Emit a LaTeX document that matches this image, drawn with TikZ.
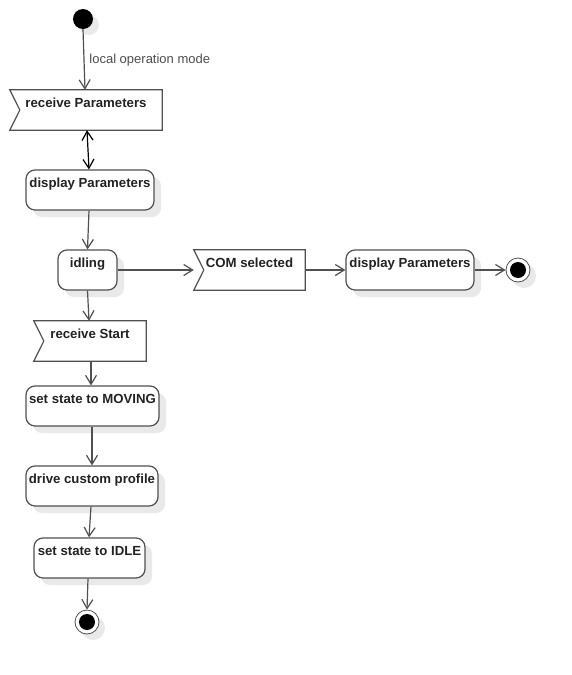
\documentclass[tikz,border=0pt]{standalone}
\usepackage{fontspec}
\setmainfont{Liberation Sans}
\usetikzlibrary{arrows.meta,shadows}
\pgfdeclarelayer{background}
\pgfsetlayers{background,main}
\definecolor{linec}{HTML}{505050}
\definecolor{textc}{HTML}{222222}
\definecolor{shadc}{HTML}{E9E9E9}
\tikzset{
  boxtext/.style={font=\fontsize{13.2}{15}\selectfont\bfseries, text=textc,
    text height=15pt, text depth=21pt, inner ysep=2pt, inner xsep=0pt},
  act/.style={boxtext, draw=linec, line width=1.2pt, fill=white, rounded corners=9pt,
    drop shadow={shadow xshift=7pt, shadow yshift=-7pt, fill=shadc, opacity=1}},
  sig/.style={boxtext},
  sigline/.style={draw=linec, line width=1.2pt},
  arr/.style={draw=linec, line width=1.2pt, -{Straight Barb[length=9pt,width=11pt,line width=1.2pt]}},
  arrb/.style={draw=black, line width=1.2pt, {Straight Barb[length=9pt,width=11pt,line width=1.2pt]}-{Straight Barb[length=9pt,width=11pt,line width=1.2pt]}},
  startdot/.style={circle, fill=black, minimum size=20pt, inner sep=0pt,
    drop shadow={shadow xshift=6pt, shadow yshift=-6pt, fill=shadc, opacity=1}},
  enddot/.style={circle, draw=linec, line width=0.8pt, fill=white, minimum size=24pt, inner sep=0pt,
    drop shadow={shadow xshift=6pt, shadow yshift=-6pt, fill=shadc, opacity=1}},
}
\newcommand{\sigshape}[1]{%
  \begin{pgfonlayer}{background}
    \fill[shadc] ([shift={(7,7)}]#1.north west) -- ([shift={(7,7)}]#1.north east) -- ([shift={(7,7)}]#1.south east) -- ([shift={(7,7)}]#1.south west) -- ([shift={(17,7)}]#1.west) -- cycle;
    \fill[white] (#1.north west) -- (#1.north east) -- (#1.south east) -- (#1.south west) -- ([xshift=10pt]#1.west) -- cycle;
  \end{pgfonlayer}
  \draw[sigline] (#1.north west) -- (#1.north east) -- (#1.south east) -- (#1.south west) -- ([xshift=10pt]#1.west) -- cycle;
}
\begin{document}
\begin{tikzpicture}[x=1pt,y=-1pt]
\useasboundingbox (0,0) rectangle (571,675);
\fill[white] (0,0) rectangle (571,675);

\node[startdot] (s) at (83,19) {};
\node[sig, minimum width=152pt] (rp) at (86,110) {receive Parameters};
\sigshape{rp}
\node[act, minimum width=128pt] (dp1) at (90,190) {display Parameters};
\node[act, minimum width=59pt] (id) at (87.5,270) {idling};
\node[sig, minimum width=111pt] (com) at (249.5,270) {COM selected};
\sigshape{com}
\node[act, minimum width=128pt] (dp2) at (410,270) {display Parameters};
\node[enddot] (e1) at (518,270) {};
\fill[black] (e1.center) circle (8pt);
\node[sig, minimum width=112pt] (rs) at (90,341) {receive Start};
\sigshape{rs}
\node[act, minimum width=133pt] (mv) at (92.5,406) {set state to MOVING};
\node[act, minimum width=132pt] (dr) at (92,486) {drive custom profile};
\node[act, minimum width=111pt] (idle) at (89.5,558) {set state to IDLE};
\node[enddot] (e2) at (87,622) {};
\fill[black] (e2.center) circle (8pt);

\draw[arr] (s.south) -- node[pos=0.49, anchor=west, xshift=1.5pt, yshift=-1pt, font=\fontsize{13}{15}\selectfont, text=textc!80] (lbl) {local operation mode} ([xshift=-1pt]rp.north);
\draw[arrb] ([xshift=1pt]rp.south) -- ([xshift=-1pt]dp1.north);
\draw[arr] ([xshift=-1pt]dp1.south) -- (id.north);
\draw[arr] (id.east) -- (com.west);
\draw[arr] (com.east) -- (dp2.west);
\draw[arr] (dp2.east) -- (e1.west);
\draw[arr] (id.south) -- ([xshift=-1pt]rs.north);
\draw[arr] ([xshift=1pt]rs.south) -- ([xshift=-1.5pt]mv.north);
\draw[arr] ([xshift=-0.5pt]mv.south) -- (dr.north);
\draw[arr] ([xshift=-1pt]dr.south) -- ([xshift=-0.5pt]idle.north);
\draw[arr] ([xshift=-1.5pt]idle.south) -- (e2.north);
\end{tikzpicture}
\end{document}
